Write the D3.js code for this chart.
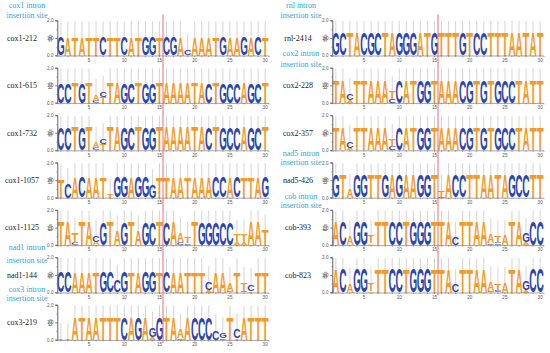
<!DOCTYPE html>
<html>
<head>
<meta charset="utf-8">
<script src="https://cdn.jsdelivr.net/npm/d3@7/dist/d3.min.js"></script>
<style>
  body { margin: 0; background: #fff; }
</style>
</head>
<body>
<svg id="chart" width="550" height="353"></svg>
<script>
// ---- data ----
const POSITIONS = d3.range(1, 31);
const X_TICKS = [5, 10, 15, 20, 25, 30];
const Y_TICKS = [0, 1, 2];
const SITE_AFTER = 15; // insertion site sits between position 15 and 16

const LEFT_NAMES = ["cox1-212", "cox1-615", "cox1-732", "cox1-1057", "cox1-1125", "nad1-144", "cox3-219"];
const LEFT_SEQS = [
  "GATATTCTTCATGGTCGACAAATGAAGACT",
  "CCTGTACTAGCTGGTAAAATACTGCCAGCT",
  "CCTGTACTAGCTGGTAAAATACTGCCAGCT",
  "TCACAATTGGAGGGTTAATAAACCACTTAG",
  "TATTACGTAGTAGCTCAATTGGGCCTTAAT",
  "CCAAATGCCGTAGGTCAATTTCAAATTCTT",
  "TTATAATTTCAGAGGTAAACCCCGTCATTT"
];
// height (bits) of a fully conserved column in each logo
const LEFT_FULL = [1.05, 1.15, 1.3, 1.2, 1.3, 1.2, 1.25];
// columns that are not a single conserved letter: stacks listed bottom -> top
const LEFT_MIXED = [
  { 19: [["C", 0.3]] },
  { 6: [["C", 0.12], ["A", 0.35]], 7: [["T", 0.35], ["C", 0.3]] },
  { 6: [["C", 0.12], ["A", 0.35]], 7: [["T", 0.35], ["C", 0.3]] },
  { 1: [["T", 1.0]], 2: [["C", 0.8]], 8: [["T", 0.2]], 14: [["G", 0.75]] },
  { 3: [["C", 0.12], ["T", 0.55]], 6: [["A", 0.2], ["C", 0.35]], 9: [["A", 0.8]], 12: [["A", 0.8]],
    18: [["C", 0.15], ["A", 0.5]], 19: [["C", 0.1], ["T", 0.35]], 26: [["A", 0.15], ["T", 0.4]],
    27: [["A", 0.15], ["T", 0.4]], 30: [["T", 0.85]] },
  { 9: [["C", 0.7]], 22: [["A", 0.15], ["C", 0.45]], 25: [["G", 0.1], ["A", 0.45]],
    27: [["C", 0.1], ["T", 0.45]], 28: [["T", 0.1], ["C", 0.4]] },
  { 1: [["T", 0.03]], 2: [["T", 0.03]], 14: [["A", 0.15], ["G", 0.55]], 18: [["G", 0.1], ["A", 0.5]],
    23: [["C", 0.55]], 24: [["C", 0.1], ["G", 0.3]], 26: [["T", 0.1], ["C", 0.5]] }
];

const RIGHT_NAMES = ["rnl-2414", "cox2-228", "cox2-357", "nad5-426", "cob-393", "cob-823"];
const RIGHT_SEQS = [
  "GCTACGCTAGGGATGTTTGTCCTTTAATAT",
  "TACTTAAATCATGGTAAACGTGTGCCTATT",
  "TACTTAAATCATGGTAAACGTGTGCCTATT",
  "GTAGGTTGAGAAGGTTACCTTAATAGCCTT",
  "ACAGGTTTCCTGGGTTACTTAAATATAGCC",
  "ACAGGTTTCCTGGGTTACTTAAATATAGCC"
];
const RIGHT_FULL = [1.3, 1.25, 1.25, 1.3, 1.35, 1.35];
const RIGHT_MIXED = [
  {},
  { 3: [["A", 0.15], ["C", 0.35]], 9: [["C", 0.2], ["T", 0.4]] },
  { 3: [["A", 0.15], ["C", 0.4]], 9: [["C", 0.2], ["T", 0.4]] },
  { 3: [["A", 0.5]], 16: [["C", 0.05], ["T", 0.35]] },
  { 3: [["A", 0.5]], 6: [["A", 0.1], ["T", 0.45]], 18: [["C", 0.45]], 23: [["C", 0.1], ["A", 0.5]],
    24: [["C", 0.1], ["G", 0.05], ["T", 0.35]], 25: [["A", 0.55]], 28: [["A", 0.15], ["G", 0.5]] },
  { 3: [["A", 0.5]], 6: [["A", 0.1], ["T", 0.45]], 18: [["C", 0.45]], 23: [["C", 0.1], ["A", 0.5]],
    24: [["C", 0.1], ["G", 0.05], ["T", 0.35]], 25: [["A", 0.55]], 28: [["A", 0.15], ["G", 0.5]] }
];

// intron headers, keyed by the logo they sit above
const HEADERS = [
  { before: "cox1-212", lines: ["cox1 intron", "insertion site"] },
  { before: "nad1-144", lines: ["nad1 intron", "insertion site"] },
  { before: "cox3-219", lines: ["cox3 intron", "insertion site"] },
  { before: "rnl-2414", lines: ["rnl intron", "insertion site"] },
  { before: "cox2-228", lines: ["cox2 intron", "insertion site"] },
  { before: "nad5-426", lines: ["nad5 intron", "insertion site"] },
  { before: "cob-393", lines: ["cob intron", "insertion site"] }
];

// ---- layout ----
const ORANGE = "#f59a2a";
const BLUE = "#2b45ae";
const COLORS = { A: ORANGE, T: ORANGE, C: BLUE, G: BLUE };
const HEADER_COLOR = "#2ba6dc";
const TOP0 = 20.5;
const ROW_STEP = 47.4;
const PLOT_H = 35;
const PLOT_W = 211;
const COLS = [
  { x0: 57.5, labelX: 22, headerX: 27 },
  { x0: 332.5, labelX: 298, headerX: 301 }
];
// header line offsets (relative to top of the logo below it)
const HEADER_DY = {
  "cox1-212": [-15, -5], "nad1-144": [-10.5, 2.5], "cox3-219": [-16, -7],
  "rnl-2414": [-15, -5], "cox2-228": [-14.5, -4], "nad5-426": [-10, -1], "cob-393": [-13.5, -5]
};

const svg = d3.select("#chart");

// measure glyph ink boxes so letters can be stretched to fill their cell
const ctx = document.createElement("canvas").getContext("2d");
ctx.font = "bold 100px 'Liberation Sans'";
const GLYPH = {};
"ACGT".split("").forEach(l => {
  const m = ctx.measureText(l);
  GLYPH[l] = {
    l: m.actualBoundingBoxLeft, r: m.actualBoundingBoxRight,
    a: m.actualBoundingBoxAscent, d: m.actualBoundingBoxDescent
  };
});

function drawLetter(g, letter, cx, w, yBottom, yTop) {
  const m = GLYPH[letter];
  const sx = w / (m.l + m.r);
  const sy = (yBottom - yTop) / (m.a + m.d);
  g.append("text")
    .attr("transform", `translate(${cx - w / 2},${yBottom}) scale(${sx},${sy})`)
    .attr("x", m.l)
    .attr("y", -m.d)
    .attr("font-family", "'Liberation Sans'")
    .attr("font-weight", "bold")
    .attr("font-size", 100)
    .attr("fill", COLORS[letter])
    .text(letter);
}

function drawLogo(name, seq, full, mixed, col, row) {
  const top = TOP0 + row * ROW_STEP;
  const x = d3.scaleBand().domain(POSITIONS).range([col.x0, col.x0 + PLOT_W]).paddingInner(0.05);
  const y = d3.scaleLinear().domain([0, 2]).range([top + PLOT_H, top]);
  const g = svg.append("g").attr("class", "logo");

  const columns = POSITIONS.map(p => ({ pos: p, stack: mixed[p] || [[seq[p - 1], full]] }));
  columns.forEach(c => { c.total = d3.sum(c.stack, s => s[1]); });

  // error bars
  g.selectAll(".err")
    .data(columns)
    .join("line")
    .attr("x1", d => x(d.pos) + x.bandwidth() / 2)
    .attr("x2", d => x(d.pos) + x.bandwidth() / 2)
    .attr("y1", d => y(Math.max(0, d.total - 0.3)))
    .attr("y2", d => y(Math.min(1.97, d.total + 0.9)))
    .attr("stroke", "#cfcfcf")
    .attr("stroke-width", 0.9);

  // letters
  columns.forEach(c => {
    let base = 0;
    c.stack.forEach(([letter, h]) => {
      if (h > 0.005) {
        drawLetter(g, letter, x(c.pos) + x.bandwidth() / 2, x.bandwidth(), y(base), y(base + h));
      }
      base += h;
    });
  });

  // axes
  const yAxis = g.append("g")
    .attr("transform", `translate(${col.x0},0)`)
    .call(d3.axisLeft(y).tickValues(Y_TICKS).tickFormat(d3.format(".1f")).tickSize(2.5).tickPadding(1.5));
  g.append("g")
    .attr("transform", `translate(${col.x0},0)`)
    .call(d3.axisLeft(y).tickValues(d3.range(0, 2.01, 0.5)).tickFormat("").tickSize(1.2));
  g.append("g")
    .attr("transform", `translate(0,${top + PLOT_H})`)
    .call(d3.axisBottom(x).tickValues(POSITIONS)
      .tickFormat(d => X_TICKS.includes(d) ? d : "").tickSize(1.5).tickPadding(1.5));
  g.selectAll(".domain, .tick line").attr("stroke", "#666").attr("stroke-width", 0.6);
  g.selectAll(".tick text").attr("font-size", 4.6).attr("fill", "#555")
    .attr("font-family", "'Liberation Sans'");
  yAxis.select(".domain").attr("d", `M-2.5,${y(2)}H0V${y(0)}H-2.5`);

  // "bits" label
  g.append("text")
    .attr("transform", `translate(${col.x0 - 6},${y(1)}) rotate(-90)`)
    .attr("text-anchor", "middle")
    .attr("font-family", "'Liberation Sans'")
    .attr("font-size", 4.6)
    .attr("fill", "#444")
    .text("bits");

  // logo name
  g.append("text")
    .attr("x", col.labelX)
    .attr("y", y(1) + 2.8)
    .attr("text-anchor", "middle")
    .attr("font-family", "'Liberation Serif'")
    .attr("font-size", 8)
    .attr("fill", "#222")
    .text(name);

  return { x, y, top };
}

function drawColumn(names, seqs, fulls, mixeds, col) {
  const logos = names.map((n, i) => drawLogo(n, seqs[i], fulls[i], mixeds[i], col, i));
  // headers
  HEADERS.filter(h => names.includes(h.before)).forEach(h => {
    const top = logos[names.indexOf(h.before)].top;
    h.lines.forEach((line, j) => {
      svg.append("text")
        .attr("x", col.headerX)
        .attr("y", top + HEADER_DY[h.before][j] + 2.8)
        .attr("text-anchor", "middle")
        .attr("font-family", "'Liberation Serif'")
        .attr("font-size", 8)
        .attr("fill", HEADER_COLOR)
        .text(line);
    });
  });
  // insertion-site line
  const first = logos[0], last = logos[logos.length - 1];
  const sx = (first.x(SITE_AFTER) + first.x.bandwidth() + first.x(SITE_AFTER + 1)) / 2;
  svg.append("line")
    .attr("x1", sx).attr("x2", sx)
    .attr("y1", first.top - 6)
    .attr("y2", last.top + PLOT_H + 3)
    .attr("stroke", "#e85a64")
    .attr("stroke-width", 0.9);
}

drawColumn(LEFT_NAMES, LEFT_SEQS, LEFT_FULL, LEFT_MIXED, COLS[0]);
drawColumn(RIGHT_NAMES, RIGHT_SEQS, RIGHT_FULL, RIGHT_MIXED, COLS[1]);
</script>
</body>
</html>
